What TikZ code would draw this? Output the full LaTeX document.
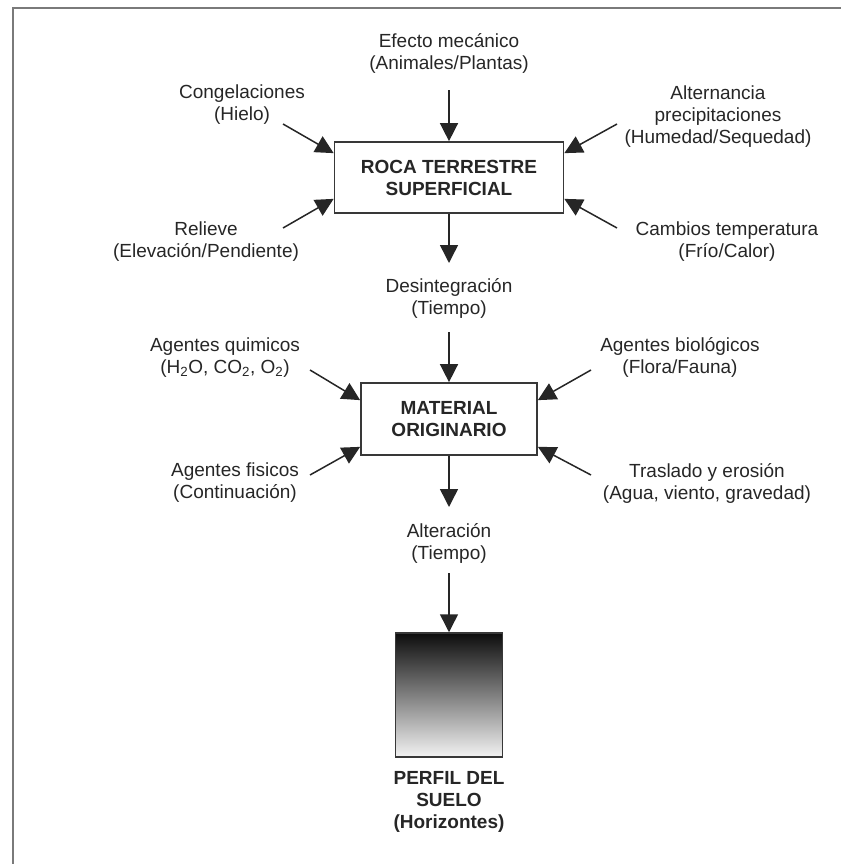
\documentclass[tikz,border=0pt]{standalone}
\usepackage{fontspec}
\setmainfont{Liberation Sans}
\usetikzlibrary{arrows.meta,calc,positioning}
\definecolor{bordegris}{rgb}{0.48,0.48,0.48}
\definecolor{cajagris}{rgb}{0.22,0.22,0.22}
\tikzset{
  texto/.style={
    align=center,
    inner sep=0pt,
    text=black!85,
    font=\fontsize{19bp}{22bp}\selectfont
  },
  textonegro/.style={
    texto,
    font=\fontsize{19bp}{22bp}\selectfont\bfseries
  },
  caja/.style={
    draw=cajagris,
    line width=1.7bp,
    fill=white,
    align=center,
    inner sep=0pt,
    text=black!85,
    font=\fontsize{19bp}{22bp}\selectfont\bfseries
  },
  perfil/.style={
    draw=cajagris,
    line width=1.5bp,
    top color=black!95,
    bottom color=black!5,
    minimum width=107bp,
    minimum height=124bp
  },
  flecha/.style={
    -{Triangle[length=18bp,width=18bp]},
    line width=1.5bp,
    black!85
  }
}

\begin{document}
\begin{tikzpicture}[x=1bp,y=-1bp]
\useasboundingbox (0,0) rectangle (841,864);
\draw[bordegris,line width=2.5bp] (13,864) -- (13,8) -- (841,8);

\node[caja,minimum width=229bp,minimum height=71bp] (roca) at (449,177.5) {ROCA TERRESTRE\\SUPERFICIAL};
\node[caja,minimum width=176bp,minimum height=72bp] (material) at (449,419) {MATERIAL\\ORIGINARIO};
\node[perfil] (suelo) at (449,695) {};

\node[texto] (efecto) at (449,53.5) {Efecto mecánico\\(Animales/Plantas)};
\node[texto] (congel) at (242,104.5) {Congelaciones\\(Hielo)};
\node[texto] (altern) at (718,117) {Alternancia\\precipitaciones\\(Humedad/Sequedad)};
\node[texto] (relieve) at (206,241.5) {Relieve\\(Elevación/Pendiente)};
\node[texto] (cambios) at (727,241.5) {Cambios temperatura\\(Frío/Calor)};
\node[texto] (desint) at (449,298) {Desintegración\\(Tiempo)};
\node[texto] (quimic) at (225,357.5) {Agentes quimicos\\(H\textsubscript{2}O, CO\textsubscript{2}, O\textsubscript{2})};
\node[texto] (biolog) at (680,357.5) {Agentes biológicos\\(Flora/Fauna)};
\node[texto] (fisic) at (235,483) {Agentes fisicos\\(Continuación)};
\node[texto] (trasl) at (707,483) {Traslado y erosión\\(Agua, viento, gravedad)};
\node[texto] (alter) at (449,543.5) {Alteración\\(Tiempo)};
\node[textonegro] (perfiltxt) at (449,802) {PERFIL DEL\\SUELO\\(Horizontes)};

\coordinate (c1) at (449,90);
\coordinate (c2) at (283,124);
\coordinate (c3) at (617,124);
\coordinate (c4) at (283,228);
\coordinate (c5) at (617,228);
\coordinate (c6) at (449,263);
\coordinate (c7) at (449,332);
\coordinate (c8) at (310,370);
\coordinate (c9) at (591,370);
\coordinate (c10) at (310,475);
\coordinate (c11) at (591,475);
\coordinate (c12) at (449,507);
\coordinate (c13) at (449,573);

\draw[flecha] (c1) -- (roca.north);
\draw[flecha] (c2) -- ([yshift=-12bp]roca.north west);
\draw[flecha] (c3) -- ([yshift=-12bp]roca.north east);
\draw[flecha] (c4) -- ([yshift=15bp]roca.south west);
\draw[flecha] (c5) -- ([yshift=15bp]roca.south east);
\draw[flecha] (roca.south) -- (c6);
\draw[flecha] (c7) -- (material.north);
\draw[flecha] (c8) -- ([yshift=-18bp]material.north west);
\draw[flecha] (c9) -- ([yshift=-18bp]material.north east);
\draw[flecha] (c10) -- ([yshift=9bp]material.south west);
\draw[flecha] (c11) -- ([yshift=9bp]material.south east);
\draw[flecha] (material.south) -- (c12);
\draw[flecha] (c13) -- (suelo.north);
\end{tikzpicture}
\end{document}
